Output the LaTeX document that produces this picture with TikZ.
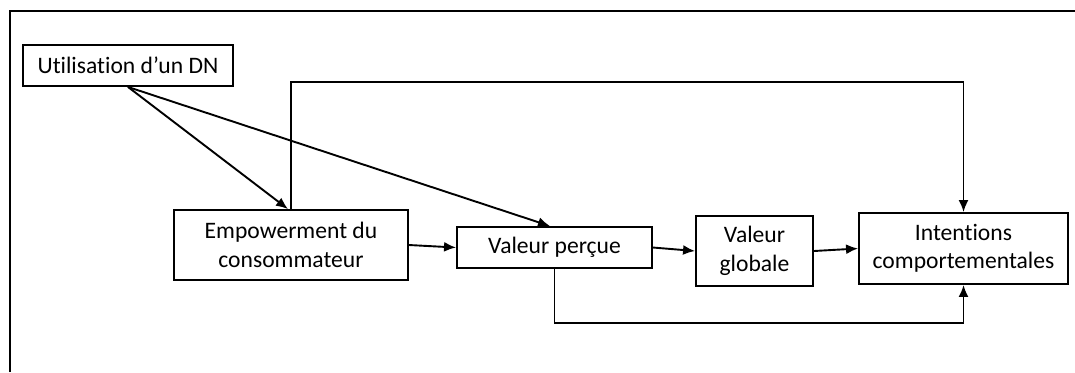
\documentclass[tikz,border=0pt]{standalone}
\usepackage{fontspec}
\setmainfont{Carlito}[RawFeature={-liga}]
\usetikzlibrary{arrows.meta}
\begin{document}
\begin{tikzpicture}[x=0.5pt,y=-0.5pt,
  box/.style={draw, line width=0.95pt, rectangle, inner sep=0pt, align=center,
    font=\fontsize{11.8}{14.2}\selectfont},
  arr/.style={line width=0.95pt, -{Latex[length=6pt,width=5pt]}},
  plain/.style={line width=0.95pt}]
\useasboundingbox (0,0) rectangle (1075,372);
% frame (top and left edges visible)
\draw[line width=1pt] (10,372) -- (10,11) -- (1075,11);
% nodes
\node[box, minimum width=105pt, minimum height=20.5pt] (ut) at (128,65.5) {Utilisation d’un DN};
\node[box, minimum width=117pt, minimum height=35pt] (emp) at (291,245) {Empowerment du\\consommateur};
\node[box, minimum width=97.5pt, minimum height=20.5pt] (vp) at (554.5,247.5) {Valeur perçue};
\node[box, minimum width=58.5pt, minimum height=35pt] (vg) at (754.5,251) {Valeur\\globale};
\node[box, minimum width=104.5pt, minimum height=35.5pt] (ic) at (963.5,248.5) {Intentions\\comportementales};
% helper coordinates
\coordinate (tr) at (963.5,82);
\coordinate (br) at (963.5,323);
% connectors
\draw[arr] (ut.south) -- ([xshift=-1.5pt]emp.north);
\draw[arr] (ut.south) -- ([xshift=-2.25pt]vp.north);
\draw[arr] (emp.east) -- (vp.west);
\draw[arr] (vp.east) -- (vg.west);
\draw[arr] (vg.east) -- (ic.west);
\draw[arr] (emp.north) |- (tr) -- (ic.north);
\draw[arr] (vp.south) |- (br) -- (ic.south);
\end{tikzpicture}
\end{document}
